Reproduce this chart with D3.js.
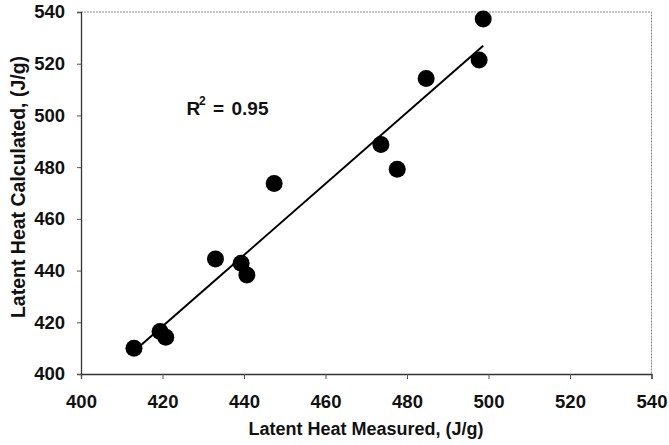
<!DOCTYPE html>
<html>
<head>
<meta charset="utf-8">
<script src="https://cdn.jsdelivr.net/npm/d3@7"></script>
<style>
  body { margin: 0; background: #fff; }
  text { font-family: "Liberation Sans", Arial, sans-serif; font-weight: bold; fill: #111; }
</style>
</head>
<body>
<svg id="chart" width="669" height="445"></svg>
<script>
// measured vs calculated latent heat
const measured   = [413, 419.4, 420.8, 433, 439.3, 440.7, 447.4, 473.6, 477.6, 484.7, 497.7, 498.7]
const calculated = [410, 416.4, 414.2, 444.5, 442.8, 438.3, 473.7, 488.8, 479.2, 514.3, 521.4, 537.3]
const xTicks = [400, 420, 440, 460, 480, 500, 520, 540]
const yTicks = [400, 420, 440, 460, 480, 500, 520, 540]
const r2Label = "0.95"

const width = 669, height = 445
const svg = d3.select("#chart")

// define margins
const margin = {top: 12, right: 17.5, bottom: 71, left: 81}

const x = d3.scaleLinear()
  .domain([400, 540])
  .range([margin.left, width - margin.right])

const y = d3.scaleLinear()
  .domain([400, 540])
  .range([height - margin.bottom, margin.top])

const data = measured.map((m, i) => ({m: m, c: calculated[i]}))

// frame (top/right), light dotted
svg.append("path")
  .attr("d", `M${x(400)},${y(540)}H${x(540)}V${y(400)}`)
  .attr("fill", "none")
  .attr("stroke", "#888")
  .attr("stroke-width", 1)
  .attr("stroke-dasharray", "2,1")

// axes
const xAxis = svg.append("g")
  .attr("transform", "translate(0," + y(400) + ")")
  .call(d3.axisBottom(x).tickValues(xTicks).tickSize(5).tickPadding(16).tickFormat(d3.format("d")))
const yAxis = svg.append("g")
  .attr("transform", "translate(" + x(400) + ",0)")
  .call(d3.axisLeft(y).tickValues(yTicks).tickSize(4).tickPadding(12).tickFormat(d3.format("d")))

;[xAxis, yAxis].forEach(g => {
  g.select(".domain").attr("stroke", "#333").attr("stroke-width", 1.3)
  g.selectAll(".tick line").attr("stroke", "#555")
  g.selectAll("text").style("font-size", "18.5px").attr("fill", "#111")
})

// least squares trend line
const mx = d3.mean(measured), my = d3.mean(calculated)
const slope = d3.sum(data, d => (d.m - mx) * (d.c - my)) / d3.sum(data, d => (d.m - mx) ** 2)
const icpt = my - slope * mx
const ext = d3.extent(measured)

svg.append("line")
  .attr("x1", x(ext[0])).attr("y1", y(icpt + slope * ext[0]))
  .attr("x2", x(ext[1])).attr("y2", y(icpt + slope * ext[1]))
  .attr("stroke", "#000")
  .attr("stroke-width", 2)

// draw points
svg.selectAll(".pt")
  .data(data)
  .enter()
  .append("circle")
    .attr("class", "pt")
    .attr("cx", d => x(d.m))
    .attr("cy", d => y(d.c))
    .attr("r", 8.5)
    .attr("fill", "#000")

// R^2 label
const rt = svg.append("text")
  .attr("y", 115)
  .style("font-size", "19px")
rt.append("tspan").attr("x", 186.5).text("R")
rt.append("tspan").attr("x", 199).attr("dy", -10).style("font-size", "12px").text("2")
rt.append("tspan").attr("x", 213).attr("dy", 10).text("=")
rt.append("tspan").attr("x", 231.5).text(r2Label)

// axis titles
svg.append("text")
  .attr("x", 366)
  .attr("y", 435)
  .attr("text-anchor", "middle")
  .style("font-size", "18px")
  .text("Latent Heat Measured, (J/g)")

svg.append("text")
  .attr("transform", "translate(25,187)rotate(-90)")
  .attr("text-anchor", "middle")
  .style("font-size", "19.5px")
  .text("Latent Heat Calculated, (J/g)")
</script>
</body>
</html>
